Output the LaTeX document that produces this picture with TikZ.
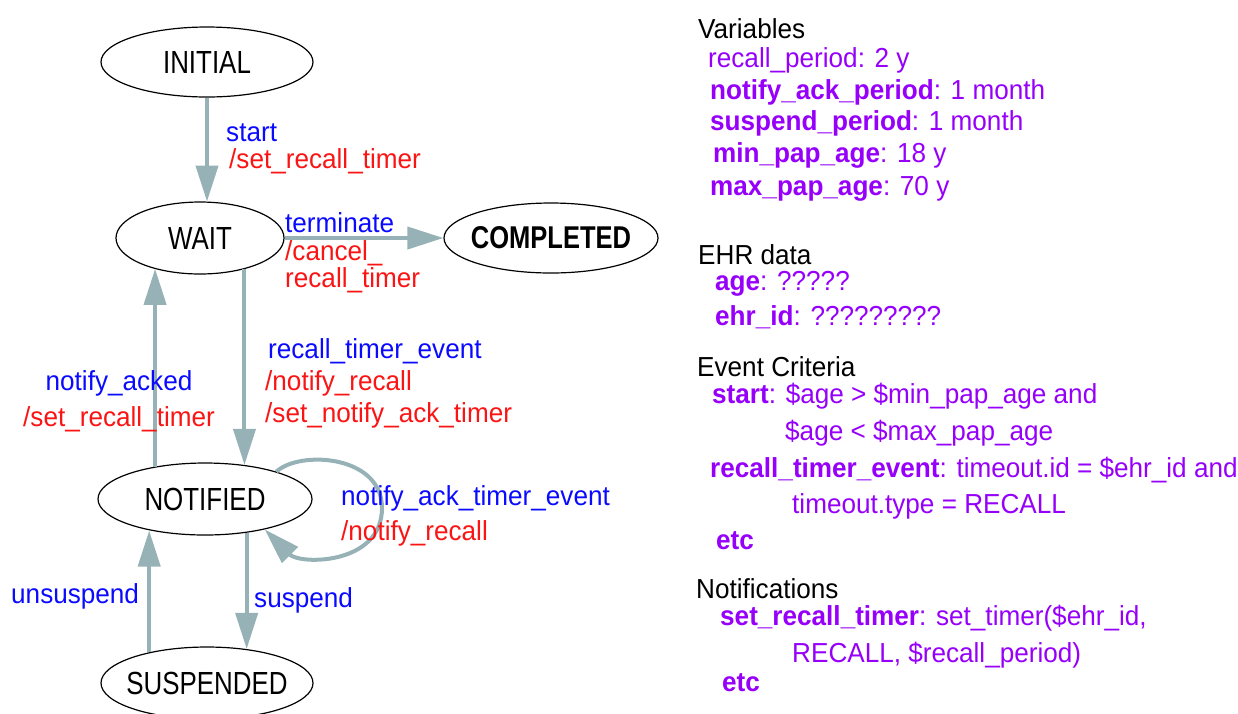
\documentclass[tikz,border=0pt]{standalone}
\usepackage{fontspec}
\setmainfont{Liberation Sans}[FakeStretch=0.95]
\newfontfamily\statefont{Liberation Sans}[FakeStretch=0.81]
\usetikzlibrary{shapes.geometric,arrows.meta}
\definecolor{edgegray}{RGB}{150,178,182}
\definecolor{evblue}{RGB}{10,10,255}
\definecolor{actred}{RGB}{250,20,20}
\definecolor{defpurple}{RGB}{150,0,250}
\tikzset{
  stnode/.style={ellipse, draw=black, line width=1.2pt, inner xsep=-12pt, inner ysep=0pt,
    font=\statefont\fontsize{32}{36}\selectfont},
  edge/.style={draw=edgegray, line width=4pt,
    -{Triangle[length=36pt,width=22pt]}},
  txt/.style={anchor=base west, inner sep=0pt, font=\fontsize{27.5}{30}\selectfont},
  ev/.style={txt, text=evblue},
  act/.style={txt, text=actred},
  def/.style={txt, text=defpurple},
  head/.style={txt, text=black},
}
\begin{document}
\begin{tikzpicture}[x=1pt,y=-1pt]
\useasboundingbox (0,0) rectangle (1238,713);

% states
\node[stnode, minimum width=212pt, minimum height=70pt] (initial) at (207,62) {INITIAL};
\node[stnode, minimum width=168pt, minimum height=72pt] (wait) at (200,238) {WAIT};
\node[stnode, minimum width=214pt, minimum height=70pt,
      font=\statefont\bfseries\fontsize{31.5}{36}\selectfont] (completed) at (551,238) {COMPLETED};
\node[stnode, minimum width=214pt, minimum height=72pt] (notified) at (205,499) {NOTIFIED};
\node[stnode, minimum width=212pt, minimum height=72pt] (suspended) at (207,683) {SUSPENDED};

% transitions (vertical ones kept plumb with |-)
\draw[edge] (initial.south) -- (initial.south |- wait.79);
\draw[edge] (wait.east) -- (completed.west);
\draw[edge] (wait.-35.7) -- (wait.-35.7 |- notified.41.5);
\draw[edge] (notified.147.5) -- (notified.147.5 |- wait.-146);
\draw[edge] (notified.-39.9) -- (notified.-39.9 |- suspended.41.5);
\draw[edge] (suspended.152) -- (suspended.152 |- notified.-150.7);
\draw[edge] (notified.21.2) .. controls (300,450) and (382,455) .. (382,508)
                            .. controls (382,565) and (300,565) .. (notified.-27.6);

% transition labels
\node[ev]  (l-start) at (226,141) {start};
\node[act] (l-start-a) at (229,168) {/set\_recall\_timer};
\node[ev]  (l-term) at (285,232) {terminate};
\node[act] (l-term-a) at (285,260) {/cancel\_};
\node[act] (l-term-b) at (285,287) {recall\_timer};
\node[ev]  (l-rte) at (268,358) {recall\_timer\_event};
\node[act] (l-rte-a) at (265,390) {/notify\_recall};
\node[act] (l-rte-b) at (265,422) {/set\_notify\_ack\_timer};
\node[ev, anchor=base]  (l-ack) at (119,390) {notify\_acked};
\node[act, anchor=base] (l-ack-a) at (119,426) {/set\_recall\_timer};
\node[ev]  (l-nate) at (341,505) {notify\_ack\_timer\_event};
\node[act] (l-nate-a) at (341,540) {/notify\_recall};
\node[ev]  (l-unsus) at (11,603) {unsuspend};
\node[ev]  (l-sus) at (254,607) {suspend};

% definitions
\node[head] (h-var) at (698,38) {Variables};
\node[def] (v1) at (708,67) {recall\_period: 2 y};
\node[def] (v2) at (710,99) {\bfseries notify\_ack\_period\mdseries: 1 month};
\node[def] (v3) at (710,130) {\bfseries suspend\_period\mdseries: 1 month};
\node[def] (v4) at (713,162) {\bfseries min\_pap\_age\mdseries: 18 y};
\node[def] (v5) at (710,195) {\bfseries max\_pap\_age\mdseries: 70 y};

\node[head] (h-ehr) at (698,264) {EHR data};
\node[def] (e1) at (715,290) {\bfseries age\mdseries: ?????};
\node[def] (e2) at (715,325) {\bfseries ehr\_id\mdseries: ?????????};

\node[head] (h-ev) at (697,376) {Event Criteria};
\node[def] (c1) at (712,403) {\bfseries start\mdseries: \$age > \$min\_pap\_age and};
\node[def] (c2) at (785,440) {\$age < \$max\_pap\_age};
\node[def] (c3) at (710,477) {\bfseries recall\_timer\_event\mdseries: timeout.id = \$ehr\_id and};
\node[def] (c4) at (792,513) {timeout.type = RECALL};
\node[def] (c5) at (716,549) {\bfseries etc};

\node[head] (h-not) at (696,598) {Notifications};
\node[def] (n1) at (720,625) {\bfseries set\_recall\_timer\mdseries: set\_timer(\$ehr\_id,};
\node[def] (n2) at (792,662) {RECALL, \$recall\_period)};
\node[def] (n3) at (722,691) {\bfseries etc};
\end{tikzpicture}
\end{document}
